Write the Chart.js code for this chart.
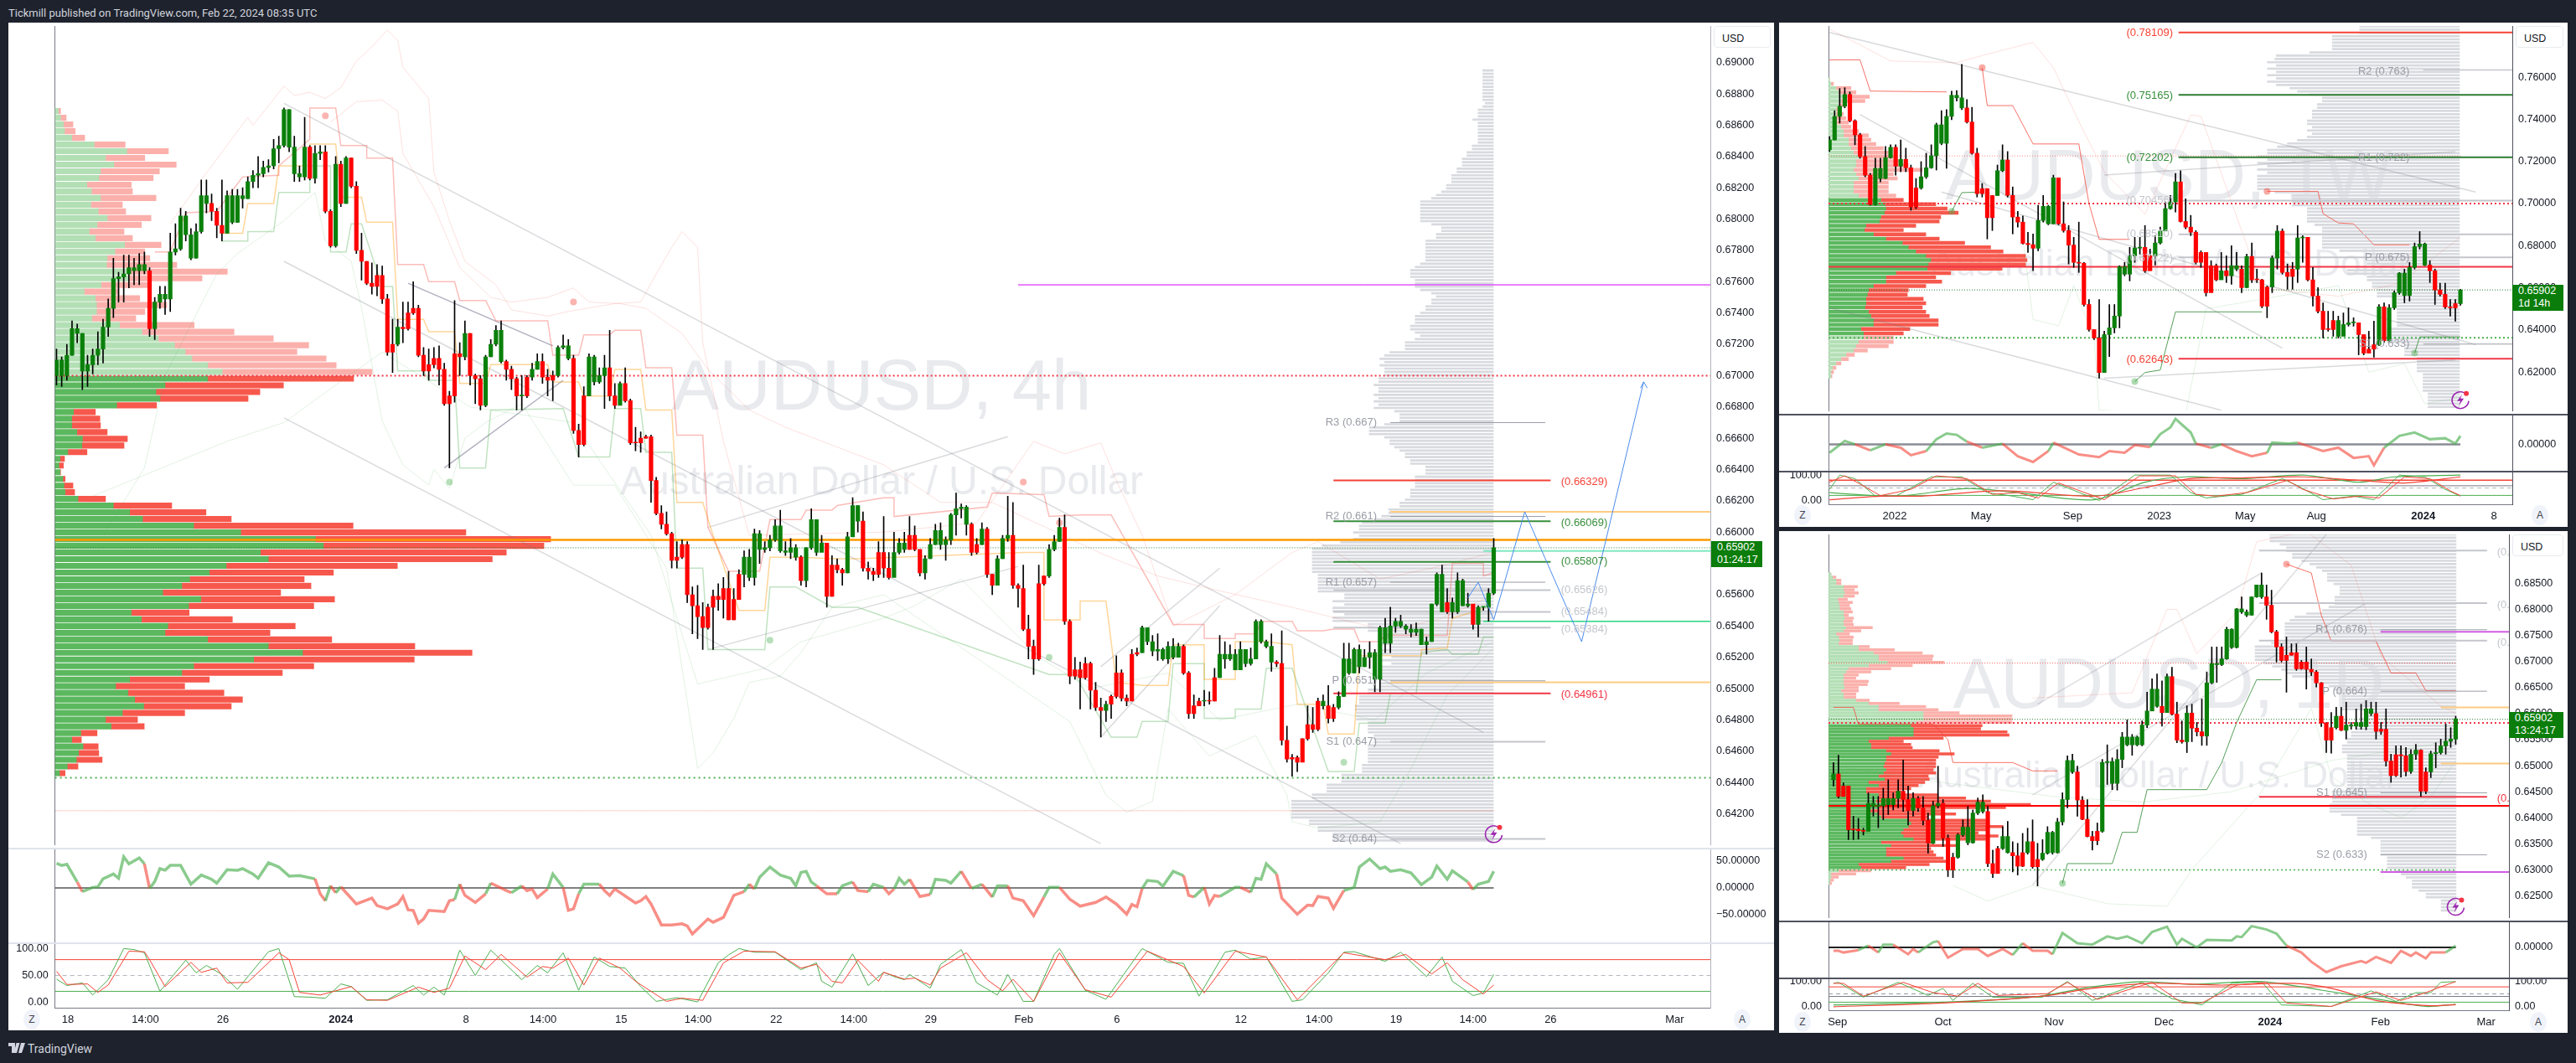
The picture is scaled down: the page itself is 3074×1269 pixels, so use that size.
<!DOCTYPE html>
<html>
<head>
<meta charset="utf-8">
<title>AUDUSD</title>
<script src="https://cdn.jsdelivr.net/npm/chart.js@4"></script>
<style>
html,body{margin:0;padding:0;background:#1e222d;overflow:hidden}
#page{position:relative;width:3074px;height:1269px;background:#1e222d;font-family:"Liberation Sans",sans-serif}
#page canvas{position:absolute;background:#fff}
.txt{position:absolute;white-space:nowrap}
.usd{position:absolute;border:1.5px solid #e8eaf0;border-radius:4px;color:#131722;font-size:12.5px;box-sizing:border-box;padding:7px 0 0 9px;background:#fff}
.tag{position:absolute;width:61px;height:31px;background:#0a7d0a;color:#fff;font-size:12.5px;line-height:15px;padding-left:7px;box-sizing:border-box}
.btn{position:absolute;width:20px;height:24px;border-radius:50%;background:#f0f3fa;color:#434651;font-size:12px;text-align:center;line-height:24px}
.sep{position:absolute}
</style>
</head>
<body>
<div id="page">
<div class="txt" style="left:10px;top:8px;color:#d1d4dc;font-size:13px;font-family:Roboto">Tickmill published on TradingView.com, Feb 22, 2024 08:35 UTC</div>
<svg style="position:absolute;left:10px;top:1244px" width="20" height="14" viewBox="0 0 20 14"><path d="M0 1h8v12H4V5H0zM9.500 1h4L10 13H6.500zM15 1h5l-4 12h-4z" fill="#d1d4dc"/></svg>
<div class="txt" style="left:33px;top:1244px;color:#d1d4dc;font-size:14px;font-family:Roboto">TradingView</div>
</div>
<script>
// 4h chart, prices in 1/10000
const mainClose = [6710,6700,6713,6730,6727,6703,6707,6713,6717,6731,6743,6762,6763,6765,6769,6767,6771,6767,6730,6747,6752,6749,6779,6781,6802,6790,6775,6792,6815,6810,6805,6796,6791,6815,6798,6815,6813,6824,6828,6829,6833,6834,6845,6847,6870,6846,6829,6827,6846,6826,6842,6843,6805,6783,6835,6810,6839,6821,6780,6773,6759,6757,6764,6749,6715,6720,6731,6730,6740,6743,6713,6703,6707,6711,6704,6682,6687,6714,6712,6727,6700,6698,6681,6712,6720,6729,6709,6704,6698,6687,6687,6699,6704,6709,6699,6697,6700,6718,6719,6711,6665,6656,6687,6712,6696,6700,6705,6687,6681,6695,6684,6657,6657,6660,6661,6633,6612,6605,6599,
6582,6584,6592,6560,6553,6546,6539,6552,6559,6557,6564,6544,6557,6573,6584,6571,6599,6589,6590,6595,6604,6588,6587,6590,6584,6569,6590,6608,6587,6593,6559,6579,6576,6574,6597,6617,6607,6577,6575,6573,6587,
6577,6571,6587,6593,6589,6598,6589,6574,6583,6592,6601,6592,6595,6611,6615,6616,6605,6587,6592,6602,6573,6566,6583,6596,6598,6566,6564,6538,6527,6519,6567,6572,6589,6594,6603,6543,6508,6512,6507,6516,6499,6488,6486,6490,6495,6510,6494,6492,6522,6523,6539,6530,6524,6525,6519,6527,6520,6527,6510,6484,6489,6492,6492,6492,6507,6522,6519,6522,6512,6525,6516,6519,6543,6530,6527,6517,6516,6467,6455,6456,6453,6468,6477,6474,6492,6489,6481,6488,6495,6519,6510,6525,6514,6520,6523,6506,6539,6529,6540,6543,6540,6538,6536,6538,6528,6530,6554,6573,6549,6555,6549,6569,6553,6554,6541,6552,6552,6561,6590];
const mainHigh = [6717,6712,6720,6735,6733,6727,6713,6717,6728,6736,6749,6775,6766,6777,6777,6775,6778,6779,6769,6750,6757,6757,6791,6797,6807,6805,6794,6797,6825,6825,6816,6807,6825,6818,6819,6819,6820,6827,6831,6840,6837,6838,6851,6853,6871,6870,6853,6834,6865,6847,6847,6847,6847,6806,6840,6837,6840,6839,6824,6791,6773,6772,6771,6770,6752,6736,6736,6747,6747,6760,6745,6718,6717,6718,6719,6708,6690,6748,6721,6735,6727,6701,6700,6713,6723,6732,6735,6710,6706,6699,6700,6700,6708,6714,6714,6704,6703,6719,6726,6723,6713,6669,6693,6714,6713,6705,6713,6729,6695,6696,6705,6685,6667,6664,6662,6662,6635,6617,6613,
6600,6594,6595,6594,6565,6566,6555,6554,6563,6567,6571,6575,6564,6576,6588,6589,6602,6601,6594,6598,6608,6614,6594,6596,6592,6585,6590,6615,6608,6598,6593,6585,6583,6577,6600,6622,6617,6613,6581,6577,6594,
6610,6587,6600,6596,6600,6610,6604,6582,6585,6596,6605,6606,6597,6612,6625,6618,6617,6606,6596,6606,6603,6573,6585,6598,6623,6619,6567,6579,6547,6531,6579,6572,6592,6598,6609,6611,6544,6520,6517,6520,6517,6504,6494,6492,6496,6521,6512,6496,6525,6526,6540,6539,6534,6535,6526,6530,6532,6529,6528,6511,6496,6494,6499,6498,6513,6534,6530,6528,6525,6530,6525,6526,6544,6544,6531,6535,6518,6537,6476,6458,6457,6468,6489,6488,6494,6496,6502,6490,6498,6529,6529,6526,6528,6525,6530,6525,6540,6545,6552,6545,6547,6541,6541,6542,6538,6533,6554,6574,6579,6564,6558,6574,6570,6561,6553,6553,6552,6564,6596];
const mainLow = [6694,6693,6697,6713,6721,6691,6693,6701,6707,6708,6725,6737,6747,6747,6756,6758,6758,6765,6725,6723,6743,6739,6741,6777,6780,6786,6774,6775,6791,6804,6799,6788,6786,6791,6797,6798,6807,6813,6820,6820,6827,6830,6832,6836,6846,6843,6824,6824,6825,6825,6823,6838,6804,6782,6782,6808,6810,6820,6778,6761,6758,6752,6751,6746,6713,6702,6719,6721,6729,6739,6712,6700,6697,6705,6694,6681,6641,6683,6700,6710,6694,6682,6678,6680,6712,6719,6708,6697,6691,6678,6678,6686,6697,6704,6695,6687,6684,6699,6717,6710,6663,6648,6655,6687,6694,6695,6679,6684,6679,6684,6683,6656,6652,6651,6660,6619,6611,6602,6598,
6577,6577,6583,6555,6535,6532,6525,6538,6525,6550,6545,6544,6544,6557,6565,6569,6566,6580,6587,6588,6594,6587,6585,6583,6582,6566,6565,6589,6585,6590,6552,6559,6574,6566,6574,6607,6600,6575,6570,6569,6571,
6571,6570,6585,6586,6587,6589,6588,6572,6570,6583,6592,6589,6582,6592,6598,6609,6598,6585,6586,6592,6571,6560,6566,6583,6594,6564,6552,6537,6519,6509,6518,6566,6571,6588,6594,6541,6503,6506,6487,6506,6487,6486,6469,6479,6481,6494,6492,6489,6492,6521,6523,6528,6521,6518,6518,6516,6519,6520,6509,6481,6481,6489,6489,6490,6492,6507,6513,6518,6512,6513,6514,6515,6519,6529,6526,6511,6514,6464,6453,6444,6447,6455,6467,6472,6473,6487,6478,6479,6487,6495,6509,6510,6510,6514,6513,6498,6498,6523,6523,6536,6539,6535,6533,6534,6528,6522,6530,6553,6549,6548,6545,6548,6553,6552,6538,6533,6550,6543,6560];
const mainRedRuns = [[18,18],[30,32],[49,49],[52,53],[55,55],[57,65],[67,78],[80,82],[87,89],[91,91],[94,96],[100,102],[107,108],[110,132],[144,144],[149,152],[156,161],[165,167],[177,178],[180,181],[185,191],[195,202],[204,209],[218,221],[223,224],[236,244],[246,247],[269,269],[274,274]];
const mainTicksX = [2.2,17.2,32.2,55,79.2,94.1,109.2,124.1,139.2,154.2,169.1,187.1,205.1,229.1,244.2,259.1,274,289,313];
const mainTickLabels = ['18','14:00','26','2024','8','14:00','15','14:00','22','14:00','29','Feb','6','12','14:00','19','14:00','26','Mar'];
const mainPriceTicks = [6420,6440,6460,6480,6500,6520,6540,6560,6580,6600,6620,6640,6660,6680,6700,6720,6740,6760,6780,6800,6820,6840,6860,6880,6900];
const mainVolBuy = [6,10,15,17,30,70,128,90,105,81,78,57,65,81,64,77,93,75,61,72,124,107,93,92,132,132,82,52,72,74,74,66,115,155,184,213,232,244,272,298,272,196,180,187,110,33,30,30,39,49,48,23,9,7,9,14,16,18,41,104,133,156,247,331,464,478,366,380,305,275,240,226,192,260,238,136,154,201,196,272,380,441,354,247,226,133,108,130,142,158,120,90,100,46,30,50,42,38,22,8];
const mainVolTotal = [10,20,32,36,53,125,202,160,216,186,175,136,138,180,120,126,171,154,123,138,189,160,169,217,307,262,167,114,151,199,160,144,248,319,389,452,431,483,501,565,532,407,365,344,181,72,80,81,93,129,123,57,17,15,10,18,32,35,90,208,269,314,531,732,883,871,804,779,610,496,444,456,402,498,461,239,316,428,383,493,641,743,640,461,405,275,231,301,334,314,231,147,159,75,47,77,78,84,41,18];
const mainGrayVol = [18,18,18,18,18,18,18,18,18,18,14,18,26,26,26,35,26,26,26,26,26,26,26,36,36,45,45,53,53,53,62,62,71,71,71,80,80,88,97,105,124,124,124,124,124,124,124,105,88,88,97,97,115,115,115,115,115,115,115,124,133,141,141,141,133,133,133,124,105,97,105,105,115,115,124,133,133,133,141,141,133,124,133,150,150,150,176,185,193,185,193,185,185,185,195,195,203,195,195,203,195,203,195,203,168,159,159,159,185,211,211,211,185,176,176,168,159,150,150,141,141,115,115,115,133,133,133,133,141,141,141,150,159,159,178,178,190,203,223,228,228,
238,228,238,260,291,308,308,308,308,308,308,308,308,298,298,298,298,298,298,253,253,273,253,273,273,253,273,273,213,213,213,193,193,173,193,173,193,193,173,193,173,193,193,193,193,193,193,193,213,213,228,228,228,235,235,233,233,233,213,213,213,213,203,203,203,213,213,213,213,213,213,223,223,223,258,258,258,283,283,283,308,308,343,343,343,343,343,343,313,313,298,298,273,273,273];
const mainOsc = [[0,46],[1,42],[2,44],[4,11],[5,-7],[7,1],[8,2],[9,17],[11,26],[12,18],[13,58],[14,45],[16,56],[17,45],[18,-1],[19,12],[20,36],[21,33],[22,42],[24,42],[26,7],[28,24],[30,16],[31,9],[33,34],[35,33],[36,36],[38,26],[39,18],[41,47],[43,39],[45,22],[47,23],[50,17],[51,-11],[52,-24],[53,4],[54,-9],[55,2],[58,-30],[61,-19],[62,-33],[64,-39],[66,-30],[67,-16],[68,-41],[69,-42],[70,-66],[71,-58],[72,-42],[75,-44],[76,-24],[77,-22],[78,7],[79,-14],[81,-27],[83,-11],[84,9],[87,-5],[88,-9],[90,4],[91,-5],[92,-2],[93,-18],[95,-2],[96,26],[98,1],[99,-42],[100,-39],[101,-11],[102,7],[105,7],[106,-5],[107,-14],[108,-2],[112,-28],[113,-24],[114,-16],[115,-30],[117,-69],[119,-69],[121,-67],[122,-71],[123,-86],[126,-58],[127,-64],[129,-55],[131,-14],[133,-7],[134,7],[135,-2],[136,20],[138,39],[140,24],[142,18],[143,4],[144,29],[145,31],[146,11],[147,4],[149,-11],[151,-11],[152,4],[154,11],[155,-5],[157,-7],[158,7],[160,1],[161,-11],[162,-2],[163,18],[164,7],[165,16],[167,-16],[169,-12],[170,16],[172,14],[173,9],[175,31],[177,-1],[179,7],[181,-17],[182,4],[184,4],[185,-19],[187,-24],[189,-52],[191,-17],[192,1],[194,1],[196,-21],[198,-34],[201,-27],[203,-17],[205,-30],[207,-49],[208,-31],[209,-35],[210,-1],[211,14],[213,12],[214,3],[216,31],[218,23],[219,-14],[220,-17],[222,1],[223,-30],[224,-14],[225,-16],[228,1],[229,1],[231,-8],[232,18],[233,16],[234,45],[236,26],[237,-19],[240,-49],[242,-32],[243,-33],[244,-16],[246,-19],[247,-38],[249,-5],[251,1],[252,39],[254,54],[256,36],[257,39],[258,31],[260,34],[262,28],[264,6],[266,20],[267,41],[269,16],[270,32],[273,11],[274,-3],[275,7],[277,12],[278,31]];
const mainStochK = [[0,43],[2,31],[5,36],[7,13],[10,42],[13,101],[15,99],[17,93],[20,20],[25,79],[27,55],[29,69],[32,52],[35,24],[41,95],[43,101],[46,10],[49,9],[52,7],[55,34],[57,29],[60,3],[64,4],[69,31],[71,13],[73,28],[75,13],[78,98],[81,50],[84,98],[90,42],[93,69],[95,55],[98,93],[101,22],[104,85],[107,67],[110,64],[113,29],[116,1],[120,8],[124,0],[128,74],[130,89],[132,101],[135,94],[139,94],[144,61],[147,74],[148,39],[150,28],[154,91],[157,31],[160,56],[162,48],[164,42],[165,52],[169,26],[171,71],[175,99],[178,36],[182,13],[184,52],[187,1],[189,1],[193,90],[194,101],[199,22],[203,5],[210,101],[215,75],[218,73],[221,11],[226,94],[228,98],[231,81],[234,85],[239,1],[241,4],[246,55],[249,94],[251,95],[257,77],[260,94],[265,48],[268,85],[270,39],[274,12],[276,17],[278,52]];
const mainStochD = [[0,58],[2,33],[6,34],[8,18],[10,32],[14,96],[17,95],[18,80],[21,29],[26,75],[28,56],[31,64],[33,36],[37,37],[43,93],[45,80],[47,18],[51,13],[57,29],[60,4],[64,3],[70,28],[73,18],[76,26],[79,87],[83,61],[86,90],[91,47],[94,67],[96,64],[99,83],[102,32],[105,83],[109,64],[112,39],[118,1],[121,7],[125,3],[129,74],[133,96],[139,95],[144,64],[147,71],[150,39],[152,36],[155,79],[159,39],[160,56],[164,43],[166,45],[169,32],[171,64],[176,93],[180,42],[183,21],[185,43],[189,1],[194,93],[199,23],[204,9],[211,96],[218,67],[222,17],[228,96],[234,85],[240,4],[249,93],[257,80],[261,90],[266,53],[269,74],[272,42],[276,15],[278,32]];
const mainBandA = [[22,6797],[28,6825],[37,6865],[38,6860],[44,6885],[46,6879],[49,6881],[52,6877],[55,6884],[58,6901],[61,6910],[64,6921],[66,6914],[67,6897],[72,6877],[73,6830],[76,6799],[79,6773],[85,6758],[88,6742],[95,6738],[99,6741],[108,6746],[113,6747],[116,6765],[119,6782],[121,6792],[124,6782],[125,6721],[129,6658],[134,6598],[160,6600],[178,6606],[189,6658],[195,6650],[202,6657],[205,6633],[210,6598],[216,6540],[228,6560],[239,6587],[244,6594],[256,6570],[266,6577],[278,6587]];
const mainBandB = [[53,6862],[58,6875],[63,6876],[66,6869],[67,6842],[73,6808],[78,6769],[84,6750],[88,6747],[95,6750],[100,6756],[103,6747],[109,6746],[114,6743],[121,6727],[126,6704],[134,6678],[141,6667],[160,6643],[171,6619],[181,6619],[203,6585],[213,6572],[223,6564],[239,6552],[250,6543],[258,6537],[268,6545],[278,6560]];
const mainBandC = [[7,6623],[33,6658],[44,6670],[54,6694],[63,6715],[80,6680],[100,6670],[115,6598],[124,6503],[128,6506],[137,6513],[144,6530],[160,6545],[166,6553],[175,6570],[190,6520],[200,6500],[215,6510],[225,6480],[240,6490],[255,6480],[265,6510],[278,6530]];
const mainBandD = [[9,6598],[17,6641],[21,6700],[31,6765],[35,6778],[44,6799],[50,6817],[52,6786],[57,6773],[59,6743],[63,6671],[67,6643],[72,6630],[73,6640],[76,6628],[79,6660],[83,6670],[90,6682],[100,6630],[108,6630],[118,6577],[124,6449],[127,6459],[131,6481],[134,6504],[140,6508],[144,6523],[150,6552],[160,6560],[196,6479],[203,6432],[207,6421],[212,6428],[215,6487],[223,6457],[232,6470],[238,6432],[239,6415],[244,6411],[256,6415],[262,6449],[269,6496],[278,6526]];
const mainRedStep = [[19,6779],[22,6779],[25,6804],[31,6805],[36,6827],[43,6828],[43,6834],[49,6851],[49,6871],[54,6871],[55,6847],[60,6847],[60,6839],[65,6839],[66,6771],[71,6771],[72,6760],[77,6760],[78,6748],[83,6748],[85,6735],[95,6735],[96,6713],[101,6713],[102,6726],[107,6726],[108,6729],[113,6729],[114,6705],[119,6705],[120,6662],[125,6662],[126,6603],[130,6575],[136,6575],[138,6608],[144,6608],[145,6614],[150,6614],[151,6617],[160,6622],[162,6622],[162,6610],[180,6616],[181,6625],[191,6624],[192,6610],[198,6611],[204,6611],[216,6541],[222,6541],[222,6532],[228,6532],[228,6535],[232,6535],[233,6543],[239,6543],[240,6537],[245,6537],[247,6538],[251,6538],[252,6530],[256,6530],[257,6534],[269,6534],[270,6580],[276,6580],[276,6572],[278,6574]];
const mainOrangeStep = [[32,6791],[36,6791],[37,6810],[42,6810],[43,6834],[49,6834],[49,6848],[54,6848],[55,6814],[59,6814],[60,6798],[65,6798],[66,6736],[71,6736],[72,6728],[77,6728],[78,6695],[83,6695],[84,6707],[95,6707],[96,6696],[101,6696],[102,6687],[107,6687],[108,6704],[113,6704],[114,6678],[119,6678],[120,6619],[125,6619],[127,6598],[132,6550],[137,6550],[138,6584],[144,6584],[150,6583],[155,6583],[187,6587],[191,6587],[191,6544],[198,6544],[198,6556],[203,6556],[205,6504],[210,6502],[215,6502],[216,6528],[222,6528],[222,6506],[228,6506],[228,6530],[234,6530],[239,6528],[240,6490],[245,6490],[246,6471],[251,6471],[252,6521],[264,6521],[264,6525],[269,6526],[270,6545],[276,6551]];
const mainGreenStep = [[32,6786],[37,6786],[37,6792],[42,6792],[43,6817],[49,6817],[49,6834],[53,6834],[53,6779],[56,6779],[57,6797],[59,6797],[63,6757],[65,6757],[66,6703],[71,6703],[72,6697],[77,6697],[78,6641],[83,6641],[84,6678],[98,6679],[101,6648],[107,6648],[108,6679],[113,6679],[114,6651],[119,6651],[120,6577],[125,6577],[126,6525],[137,6525],[138,6565],[143,6565],[150,6552],[155,6552],[192,6509],[197,6509],[204,6469],[209,6469],[210,6479],[215,6479],[216,6516],[222,6516],[222,6481],[228,6481],[228,6487],[233,6487],[234,6513],[239,6513],[246,6447],[251,6447],[252,6478],[257,6478],[258,6497],[263,6497],[264,6523],[269,6525],[270,6522],[275,6522],[276,6533],[278,6533]];
const mainTrendLines = [[44,6874,276,6472],[44,6773,260,6401],[44,6673,202,6401],[126,6525,186,6578],[202,6514,225,6577],[202,6469,225,6553],[126,6603,184,6661]];
const mainTrianglePair = [[68,6759,96,6719],[75,6641,98,6697]];
const mainBluePath = [[273,6558],[275,6568],[278,6544],[284,6613],[295,6530],[307,6696]];
const mainArrowHead = [[306.4,6692],[307,6696],[307.7,6692]];
const mainRedDots = [[52,6866],[100,6747],[187,6632],[194,6606]];
const mainGreenDots = [[76,6632],[138,6531],[192,6520],[249,6453]];
const mainLevelPrices = [6700,6443,6590,6595,6422,6758,6670,6633,6613,6607,6610,6581,6588,6568,6563,6549,6543,6539,6505,6504,6497,6466,6404];

// weekly chart
const weekClose = [7302,7414,7462,7518,7393,7326,7223,7135,6995,7167,7119,7218,7267,7178,7210,7170,6984,7074,7127,7170,7227,7374,7286,7414,7514,7502,7454,7387,7239,7047,7071,6933,7038,7156,7207,7039,6936,6912,6811,6805,6788,6920,6987,6904,7122,6904,6872,6803,6721,6717,6521,6402,6362,6198,6378,6410,6466,6700,6665,6752,6789,6792,6681,6752,6813,6870,6976,7008,7103,6915,6888,6864,6721,6768,6577,6705,6638,6681,6657,6705,6689,6601,6749,6638,6638,6513,6604,6741,6869,6673,6654,6689,6837,6840,6638,6561,6489,6402,6402,6445,6370,6426,6434,6434,6378,6290,6309,6330,6510,6349,6505,6577,6670,6564,6697,6796,6808,6708,6681,6590,6569,6509,6505,6525,6590];
const weekHigh = [7318,7441,7546,7550,7530,7398,7334,7271,7143,7215,7215,7271,7279,7279,7302,7263,7183,7119,7199,7239,7279,7382,7441,7446,7534,7537,7661,7494,7457,7263,7095,7055,7039,7183,7279,7247,7079,6963,6941,6864,6856,6992,7039,6992,7135,7119,7008,6896,6840,6912,6721,6545,6402,6545,6394,6521,6521,6705,6721,6792,6840,6840,6896,6784,6848,6888,7008,7039,7143,7156,7023,6944,6872,6776,6745,6729,6713,6768,6752,6800,6768,6705,6760,6813,6689,6641,6609,6752,6896,6880,6713,6721,6896,6848,6737,6697,6601,6529,6489,6489,6466,6481,6505,6458,6426,6362,6394,6442,6521,6529,6521,6585,6673,6689,6721,6813,6867,6813,6729,6689,6622,6622,6545,6545,6593];
const weekLow = [7247,7302,7382,7454,7387,7279,7215,7127,6992,6992,7103,7119,7215,7135,7151,7151,6968,6976,7068,7119,7167,7159,7279,7167,7398,7486,7446,7382,7234,7031,7031,6832,6872,7039,7151,7031,6856,6888,6808,6768,6681,6776,6912,6899,6904,6899,6864,6713,6697,6673,6513,6394,6354,6171,6203,6274,6386,6410,6657,6633,6721,6760,6673,6705,6708,6808,6872,6973,6960,6912,6880,6848,6713,6697,6561,6593,6633,6649,6625,6617,6681,6577,6601,6625,6625,6505,6458,6577,6689,6665,6593,6593,6625,6721,6633,6513,6481,6362,6394,6370,6362,6373,6418,6418,6282,6282,6290,6271,6325,6341,6346,6497,6569,6529,6537,6689,6784,6705,6625,6521,6561,6501,6466,6442,6517];
const weekRedRuns = [[4,8],[13,13],[15,17],[27,32],[35,40],[45,53],[62,63],[69,76],[78,78],[81,81],[83,86],[89,91],[94,99],[104,107],[109,109],[118,123]];
const weekTicksX = [12.8,29.8,47.8,64.8,81.7,95.7,116.7,130.6];
const weekTickLabels = ['2022','May','Sep','2023','May','Aug','2024','8'];
const weekPriceTicks = [6200,6400,6600,6800,7000,7200,7400,7600];
const weekVolBuy = [2,5,15,20,30,25,20,15,15,15,15,25,30,30,40,40,45,50,60,55,55,50,55,60,50,50,50,60,105,113,115,112,105,102,75,72,90,115,148,160,175,195,205,200,198,135,115,115,90,80,78,75,75,73,80,85,90,90,65,70,70,60,55,50,35,25,15,8,5,5];
const weekVolTotal = [2,10,45,55,82,73,30,25,30,35,40,45,60,80,85,95,110,120,130,145,160,188,130,138,120,120,120,135,150,215,238,260,225,222,175,150,195,222,273,325,350,395,398,395,348,245,215,227,195,160,158,190,195,188,195,202,220,220,163,150,130,130,120,78,52,40,25,15,10,7];
const weekGrayVol = [200,200,200,255,255,255,255,255,300,367,370,385,367,385,367,385,367,385,367,340,325,300,275,275,285,285,295,295,295,305,305,295,305,295,305,325,345,365,385,385,405,385,405,385,405,385,405,405,405,405,405,370,335,335,335,335,305,305,305,305,305,290,275,275,275,275,275,275,275,240,185,170,185,185,170,225,225,185,185,175,175,165,165,165,125,125,125,125,125,125,125,125,125,145,145,145,145,145,110,110,110,110,85,85,85,85,85,73,73,73,73,73,73,63,63,63,63,63];
const weekOsc = [[0,-25],[3,10],[5,0],[8,-18],[11,0],[14,-10],[16,-32],[19,-20],[21,15],[23,32],[25,28],[27,8],[30,-10],[34,2],[37,-35],[40,-52],[43,-20],[44,5],[49,-30],[53,-38],[55,-20],[58,-25],[60,-2],[63,-8],[65,30],[67,50],[68,75],[71,35],[72,2],[75,-10],[77,0],[80,-20],[83,-35],[86,-25],[87,5],[90,2],[92,5],[97,-20],[100,-10],[103,-40],[106,-35],[107,-62],[109,-10],[112,25],[115,35],[118,15],[121,18],[123,2],[124,25]];
const weekStochFastK = [[0,44],[2,100],[5,86],[9,17],[13,17],[20,93],[26,93],[31,31],[36,17],[40,3],[44,72],[53,0],[60,100],[67,100],[71,31],[74,10],[81,24],[89,86],[92,58],[97,3],[103,17],[107,3],[112,100],[117,93],[121,44],[124,17]];
const weekStochFastD = [[0,72],[3,97],[6,65],[10,19],[16,44],[21,97],[27,86],[32,24],[37,31],[41,10],[45,69],[54,3],[61,97],[68,97],[72,24],[76,17],[82,31],[90,79],[93,44],[99,6],[104,17],[108,10],[113,93],[118,86],[122,38],[124,19]];
const weekStochSlowK = [[0,31],[13,17],[27,47],[36,33],[52,3],[62,72],[70,93],[81,86],[93,100],[104,72],[111,93],[124,100]];
const weekStochSlowD = [[0,3],[10,17],[18,17],[34,38],[52,17],[62,51],[71,86],[81,89],[93,93],[104,79],[113,69],[124,93]];
const weekBandUp = [[0,7829],[12,7677],[25,7669],[31,7709],[40,7765],[44,7645],[49,7390],[54,7151],[62,6950],[71,7420],[73,7415],[85,6600],[100,6560],[112,6620],[124,6840]];
const weekBandLow = [[38,6832],[40,6450],[45,6420],[48,6610],[52,6355],[53,6020],[70,6000],[74,6500],[100,6610],[106,6200],[113,6240],[117,6050],[124,6080]];
const weekRedStep = [[0,7682],[6,7682],[8,7534],[23,7530]];
const weekRedStepB = [[30,7645],[31,7465],[36,7465],[40,7283],[49,7283],[51,7000],[53,6830],[59,6830]];
const weekRedStepC = [[86,7058],[96,7058],[97,6952],[100,6908],[103,6904],[107,6804],[114,6804]];
const weekGreenStep = [[24,6963],[26,7052],[30,7055]];
const weekGreenStepB = [[60,6155],[62,6198],[65,6210],[68,6486],[85,6486]];
const weekGreenStepC = [[115,6290],[116,6367],[124,6367]];
const weekRedDots = [[30,7645],[86,7058]];
const weekGreenDots = [[24,6963],[60,6155],[115,6290]];
const weekTrendLines = [[0,7812,127,7055],[6,7422,89,6314],[0,6505,77,6019],[54,6171,123,6258],[54,7135,123,7247],[22,7055,127,6330]];
const weekLevelPrices = [7812,7634,7516,7220,7226,7014,7000,6854,6745,6700,6590,6363,6333,6264];

// daily chart
const dayClose = [6484,6441,6461,6377,6378,6375,6374,6428,6422,6423,6437,6425,6437,6451,6435,6414,6437,6419,6395,6351,6423,6428,6361,6300,6324,6367,6382,6352,6409,6430,6412,6312,6293,6341,6364,6333,6327,6307,6333,6354,6306,6320,6332,6372,6333,6392,6435,6510,6488,6434,6397,6364,6356,6374,6506,6508,6466,6512,6555,6540,6555,6540,6578,6605,6647,6614,6602,6671,6599,6549,6546,6601,6572,6565,6557,6659,6696,6694,6705,6762,6727,6801,6795,6789,6824,6847,6824,6808,6757,6728,6702,6712,6717,6686,6699,6685,6680,6659,6582,6549,6573,6595,6568,6578,6576,6583,6575,6609,6600,6566,6570,6509,6481,6521,6519,6489,6522,6530,6451,6488,6523,6525,6538,6547,6551,6590];
const dayHigh = [6506,6520,6467,6461,6403,6399,6380,6448,6441,6441,6457,6473,6448,6473,6511,6461,6448,6441,6441,6409,6432,6499,6435,6367,6332,6370,6396,6422,6415,6438,6444,6422,6338,6345,6383,6393,6354,6351,6370,6380,6396,6351,6358,6383,6374,6399,6448,6519,6522,6499,6441,6435,6374,6390,6512,6540,6515,6531,6564,6588,6560,6557,6586,6641,6667,6676,6663,6676,6689,6622,6586,6615,6618,6583,6628,6680,6728,6728,6728,6766,6763,6802,6824,6799,6824,6847,6870,6847,6837,6760,6734,6747,6734,6734,6702,6728,6705,6683,6660,6583,6602,6612,6612,6622,6583,6609,6618,6625,6622,6622,6583,6609,6522,6538,6538,6535,6531,6541,6531,6496,6528,6544,6551,6580,6573,6595];
const dayLow = [6461,6438,6441,6358,6358,6359,6367,6375,6403,6381,6396,6406,6415,6419,6412,6386,6403,6412,6386,6332,6350,6419,6345,6287,6285,6322,6364,6348,6351,6406,6409,6306,6285,6294,6339,6332,6296,6290,6306,6330,6303,6269,6318,6330,6330,6332,6386,6419,6485,6403,6396,6363,6338,6348,6372,6464,6454,6453,6496,6538,6520,6538,6538,6573,6614,6612,6576,6602,6597,6544,6543,6525,6546,6557,6539,6539,6657,6660,6692,6704,6725,6726,6792,6786,6789,6823,6821,6781,6755,6699,6699,6641,6712,6683,6685,6647,6673,6651,6575,6525,6524,6570,6567,6551,6570,6570,6570,6569,6596,6551,6560,6499,6468,6479,6478,6480,6485,6512,6441,6446,6477,6496,6522,6522,6535,6541];
const dayRedRuns = [[1,6],[14,15],[17,19],[22,24],[31,33],[36,38],[40,41],[49,53],[66,66],[68,70],[72,74],[87,100],[102,102],[109,115],[118,119]];
const dayTicksX = [0.8,22,44.3,66.4,87.7,109.9,131.1];
const dayTickLabels = ['Sep','Oct','Nov','Dec','2024','Feb','Mar'];
const dayPriceTicks = [6250,6300,6350,6400,6450,6500,6550,6600,6650,6700,6750,6800,6850];
const dayVolBuy = [5,8,15,15,30,30,32,30,18,20,22,22,30,30,32,30,30,35,30,15,20,22,20,60,60,90,100,100,118,80,40,35,30,30,30,30,32,25,30,30,55,80,100,100,190,190,190,175,165,170,170,170,120,80,85,85,115,125,115,115,112,110,115,110,100,112,80,100,75,75,100,100,95,105,100,80,100,105,160,165,160,150,145,150,170,105,125,115,115,115,150,125,60,65,20,5,5,3,2];
const dayVolTotal = [5,15,25,25,58,52,60,52,38,48,42,45,48,40,50,48,50,88,65,42,50,48,48,82,132,188,210,208,232,168,125,85,60,55,80,78,60,60,55,55,82,142,195,220,262,368,368,368,308,305,358,362,230,150,165,168,222,252,220,215,215,215,210,215,200,202,193,180,165,145,220,275,325,405,355,230,255,200,315,315,350,320,300,340,315,210,255,205,210,215,230,240,202,155,85,55,20,10,6];
const dayGrayVol = [373,373,373,353,340,340,328,328,310,293,280,268,258,258,258,245,233,233,233,243,243,243,255,268,300,323,333,343,343,343,343,343,343,370,403,403,403,403,403,385,368,350,340,328,290,268,255,245,240,228,228,228,228,228,178,178,190,190,200,200,210,210,218,218,228,228,228,218,218,218,218,218,218,218,218,218,218,218,248,248,248,248,253,253,253,230,198,198,198,198,198,198,170,151,151,151,151,151,138,138,138,138,120,110,100,88,88,88,75,60,60,30,30,30,30];
const dayOsc = [[0,-10],[1,-10],[2,-15],[5,-8],[7,5],[9,-15],[10,8],[12,8],[15,-20],[16,-5],[17,-15],[20,15],[21,18],[23,-30],[26,-5],[29,-5],[31,-25],[34,-5],[36,-22],[38,12],[40,-10],[43,-10],[44,-20],[46,42],[49,12],[52,8],[55,32],[57,25],[59,32],[62,12],[64,45],[67,60],[69,8],[70,25],[73,0],[75,22],[80,20],[81,32],[82,30],[84,62],[87,52],[89,40],[91,5],[94,-15],[96,-42],[99,-72],[102,-55],[106,-40],[107,-45],[109,-28],[112,-45],[114,-10],[116,-25],[117,-15],[119,-32],[120,-15],[123,-15],[125,5]];
const dayStochFastK = [[0,93],[1,97],[6,38],[13,97],[19,45],[22,73],[24,25],[28,93],[32,38],[42,38],[47,100],[52,25],[62,97],[68,32],[74,7],[80,93],[86,100],[90,7],[100,1],[108,63],[113,21],[117,56],[120,56],[122,97],[125,100]];
const dayStochFastD = [[0,93],[2,93],[6,42],[14,97],[20,56],[25,42],[29,93],[33,45],[43,52],[47,97],[53,29],[64,97],[70,15],[74,15],[81,86],[87,97],[91,15],[100,1],[109,59],[114,25],[119,56],[122,79],[125,100]];
const dayStochSlowK = [[0,7],[22,18],[40,38],[52,79],[62,100],[72,89],[86,100],[98,66],[111,25],[119,1],[125,10]];
const dayStochSlowD = [[0,0],[22,15],[42,42],[52,73],[64,93],[78,86],[92,93],[100,73],[109,25],[120,4],[125,8]];
const dayBandUp = [[40,6630],[60,6640],[67,6800],[69,6800],[73,6715],[81,6795],[85,6930],[95,6950],[104,6885],[110,6710],[122,6615],[125,6600]];
const dayBandLow = [[24,6270],[31,6240],[40,6270],[55,6235],[67,6230],[72,6300],[86,6450],[96,6610],[100,6480],[107,6430],[114,6400],[120,6440],[125,6510]];
const dayBandMid = [[0,6500],[20,6470],[45,6440],[62,6430],[80,6450],[100,6510],[120,6540],[125,6560]];
const dayRedStep = [[0,6612],[4,6612],[5,6580],[20,6580],[23,6550],[24,6506],[36,6506],[40,6490],[45,6490]];
const dayRedStepB = [[91,6887],[96,6870],[98,6789],[100,6739],[109,6739],[112,6678],[117,6678],[119,6644],[125,6644]];
const dayGreenStep = [[46,6274],[47,6312],[56,6312],[58,6372],[61,6372],[63,6454],[75,6454],[78,6506],[81,6583],[85,6665],[90,6665]];
const dayRedDots = [[91,6887]];
const dayGreenDots = [[46,6274]];
const dayTrendLines = [[41,6618,86,6870],[40,6444,107,6812],[40,6271,99,6944]];
const dayLevelPrices = [6913,6812,6761,6757,6740,6697,6643,6612,6589,6582,6504,6448,6440,6423,6329,6300,6296];
</script>
<script>
const page = document.getElementById('page');
const FONT = '"Liberation Sans", sans-serif';
const GREEN = '#0a800a', RED = '#ff0000';

function pairs(list) { return list.map(p => ({x: p[0], y: p[1]})); }

function lineSet(list, color, width, extra) {
    return Object.assign({type: 'line', data: pairs(list), borderColor: color, borderWidth: width, pointRadius: 0, tension: 0, fill: false, order: 6, xAxisID: 'x', yAxisID: 'y'}, extra || {});
}

function dotSet(list, color) {
    return {type: 'line', data: pairs(list), showLine: false, pointRadius: 4, pointBackgroundColor: color, pointBorderWidth: 0, order: 6, xAxisID: 'x', yAxisID: 'y'};
}

function levelSet(price, style) {
    return lineSet([[style[0], price], [style[1], price]], style[2], style[3], {borderDash: style[4] || [], order: style[5] || 5});
}

function segmentSets(list, color, width) {
    return list.map(s => lineSet([[s[0], s[1]], [s[2], s[3]]], color, width, {order: 7}));
}

function candleSets(close, high, low, redRuns, firstOpen) {
    const isRed = i => redRuns.some(r => i >= r[0] && i <= r[1]);
    const wicks = {type: 'bar', grouped: false, barThickness: 1, backgroundColor: '#000', order: 3, xAxisID: 'x', yAxisID: 'y',
        data: close.map((c, i) => ({x: i, y: [low[i], high[i]]}))};
    const bodies = {type: 'bar', grouped: false, barThickness: 4.5, minBarLength: 1, order: 2, xAxisID: 'x', yAxisID: 'y',
        backgroundColor: close.map((c, i) => isRed(i) ? RED : GREEN),
        data: close.map((c, i) => ({x: i, y: [i ? close[i - 1] : firstOpen, c]}))};
    return [wicks, bodies];
}

// left volume profile, buy part then sell part, on its own hidden axis
function volumeSets(buy, total, top, bottom, thick, darkFrom, darkTo) {
    const step = (top - bottom) / (buy.length - 1);
    const dark = i => i >= darkFrom && i <= darkTo;
    const base = {type: 'bar', indexAxis: 'y', grouped: false, barThickness: thick, order: 8, xAxisID: 'vol', yAxisID: 'y'};
    return [
        Object.assign({}, base, {backgroundColor: buy.map((b, i) => dark(i) ? '#5cb85f' : '#b3dfb5'),
            data: buy.map((b, i) => ({y: top - i * step, x: [0, b]}))}),
        Object.assign({}, base, {backgroundColor: buy.map((b, i) => dark(i) ? '#f7584d' : '#fbb0ab'),
            data: buy.map((b, i) => ({y: top - i * step, x: [b, total[i]]}))})
    ];
}

function graySet(vol, top, bottom, thick) {
    const step = (top - bottom) / (vol.length - 1);
    return {type: 'bar', indexAxis: 'y', grouped: false, barThickness: thick, order: 9, xAxisID: 'gray', yAxisID: 'y',
        backgroundColor: '#d8dadf', data: vol.map((v, i) => ({y: top - i * step, x: [0, v]}))};
}

function watermark(main, sub, mx, my, ms, sx, sy, ss) {
    return {id: 'wm', beforeDatasetsDraw(chart) {
        const c = chart.ctx;
        c.save();
        c.fillStyle = '#e9eaee';
        c.textAlign = 'center';
        c.textBaseline = 'middle';
        c.font = ms + 'px ' + FONT;
        c.fillText(main, mx, my);
        c.font = ss + 'px ' + FONT;
        c.fillText(sub, sx, sy);
        c.restore();
    }};
}

// text beside level lines and the purple event marker
function overlay(labels, mark) {
    return {id: 'ov', afterDatasetsDraw(chart) {
        const c = chart.ctx, sx = chart.scales.x, sy = chart.scales.y;
        c.save();
        c.font = '13px ' + FONT;
        c.textBaseline = 'middle';
        labels.forEach(l => {
            c.fillStyle = l[3];
            c.textAlign = l[4] || 'left';
            c.fillText(l[0], sx.getPixelForValue(l[1]), sy.getPixelForValue(l[2]));
        });
        const x = sx.getPixelForValue(mark[0]), y = sy.getPixelForValue(mark[1]);
        c.strokeStyle = '#9c27b0';
        c.lineWidth = 1.5;
        c.beginPath();
        c.arc(x, y, 10, 0.1, Math.PI * 1.7);
        c.stroke();
        c.fillStyle = '#9c27b0';
        c.beginPath();
        c.moveTo(x + 2, y - 7);
        c.lineTo(x - 4, y + 1);
        c.lineTo(x, y + 1);
        c.lineTo(x - 2, y + 7);
        c.lineTo(x + 4, y - 2);
        c.lineTo(x, y - 2);
        c.closePath();
        c.fill();
        c.fillStyle = '#f23645';
        c.beginPath();
        c.arc(x + 7, y - 8, 3, 0, Math.PI * 2);
        c.fill();
        c.restore();
    }};
}

// chart.js leaves room for half a label at the ends of an axis, the panes must fill their box
function noPadding(s) {
    s.paddingTop = 0;
    s.paddingBottom = 0;
    s.paddingLeft = 0;
    s.paddingRight = 0;
}

function xScale(min, max, ticks, labels, show) {
    return {type: 'linear', min, max, offset: false, display: show, grid: {display: false, drawTicks: false},
        border: {display: show, color: '#787b86'},
        afterBuildTicks: s => { s.ticks = ticks.map(v => ({value: v})); },
        afterFit: s => { if (show) s.height = 27; noPadding(s); },
        ticks: {autoSkip: false, maxRotation: 0, padding: 7, color: '#131722', includeBounds: false,
            callback: v => labels[ticks.indexOf(v)],
            font: ctx => ({family: FONT, size: 13, weight: ctx.tick && ctx.tick.label === '2024' ? 'bold' : 'normal'})}};
}

function yRight(min, max, ticks, width, fmt, color) {
    return {type: 'linear', position: 'right', min, max, offset: false, beginAtZero: false, grid: {display: false, drawTicks: false},
        border: {display: true, color: color || '#b2b5be'},
        afterBuildTicks: s => { s.ticks = ticks.map(v => ({value: v})); },
        afterFit: s => { s.width = width; noPadding(s); },
        ticks: {autoSkip: false, padding: 7, color: '#131722', font: {family: FONT, size: 12.5}, callback: fmt}};
}

function yLeft(min, max, ticks, width) {
    return {type: 'linear', position: 'left', min, max, offset: false, beginAtZero: false, grid: {display: false, drawTicks: false},
        border: {display: true, color: '#787b86'},
        afterBuildTicks: s => { s.ticks = ticks.map(v => ({value: v})); },
        afterFit: s => { s.width = width; noPadding(s); },
        ticks: {display: ticks.length > 0, autoSkip: false, padding: 8, color: '#131722', font: {family: FONT, size: 12.5},
            callback: v => v.toFixed(2)}};
}

function makePane(left, top, width, height, datasets, scales, plugins) {
    const cv = document.createElement('canvas');
    cv.width = width;
    cv.height = height;
    cv.style.left = left + 'px';
    cv.style.top = top + 'px';
    cv.style.width = width + 'px';
    cv.style.height = height + 'px';
    page.appendChild(cv);
    return new Chart(cv, {type: 'bar', data: {datasets}, plugins: plugins || [],
        options: {responsive: false, animation: false, events: [], layout: {padding: 0},
            plugins: {legend: {display: false}, tooltip: {enabled: false}}, scales}});
}

function oscSet(list, width) {
    return lineSet(list, 'rgba(76,175,80,.6)', width, {order: 1,
        segment: {borderColor: c => c.p1.parsed.y >= 0 ? 'rgba(76,175,80,.65)' : 'rgba(244,67,54,.6)'}});
}

function addDiv(cls, css, text) {
    const d = document.createElement('div');
    d.className = cls;
    d.style.cssText = css;
    if (text) d.innerHTML = text;
    page.appendChild(d);
}

const price5 = v => (v / 10000).toFixed(5);
const osc5 = v => (v < 0 ? '\u2212' : '') + Math.abs(v).toFixed(5);
const GRAY_LVL = '#c4c6cc', PIVOT = '#9a9da6';

// ---- 4h panel ----
const MX0 = -0.3, MX1 = 319.9, ME = 320;
const mainLevelStyle = [
    [MX0, ME, '#f23645', 2, [2, 3]], [MX0, ME, '#4caf50', 2, [2, 4]], [MX0, ME, '#2e7d32', 1, [1, 2]], [MX0, ME, '#ff9800', 2.5],
    [MX0, 278, 'rgba(244,67,54,.5)', 1, [1, 1]], [186, ME, '#d500f9', 1], [258, 288, PIVOT, 1], [247, 289, '#f44336', 2], [258, ME, '#ffcc80', 2],
    [247, 289, '#388e3c', 2], [258, 288, PIVOT, 1], [247, 289, '#388e3c', 2], [276, ME, '#80e8c0', 2], [258, 288, PIVOT, 1],
    [247, 289, GRAY_LVL, 2], [247, 289, GRAY_LVL, 2], [276, ME, '#2bd67f', 1.5], [247, 289, GRAY_LVL, 2], [258, 288, PIVOT, 1],
    [258, ME, '#ffcc80', 2], [247, 289, '#f23645', 2], [258, 288, GRAY_LVL, 2], [258, 288, GRAY_LVL, 2]
];
const mainLabels = [
    ['R3 (0.667)', 255.4, 6670, PIVOT, 'right'], ['(0.66329)', 291, 6632, '#f44336'], ['R2 (0.661)', 255.4, 6610, PIVOT, 'right'],
    ['(0.66069)', 291, 6606, '#388e3c'], ['(0.65807)', 291, 6581, '#388e3c'], ['R1 (0.657)', 255.4, 6568, PIVOT, 'right'],
    ['(0.65626)', 291, 6563, GRAY_LVL], ['(0.65484)', 291, 6549, GRAY_LVL], ['(0.65384)', 291, 6538, GRAY_LVL],
    ['P (0.651)', 255.4, 6505, PIVOT, 'right'], ['(0.64961)', 291, 6496, '#f23645'], ['S1 (0.647)', 255.4, 6466, PIVOT, 'right'],
    ['S2 (0.64)', 255.4, 6404, PIVOT, 'right']
];
const mainSets = [
    graySet(mainGrayVol, 6895, 6403, 2),
    ...volumeSets(mainVolBuy, mainVolTotal, 6869, 6446, 6.5, 40, 99),
    lineSet(mainBandA, 'rgba(244,67,54,.16)', 1), lineSet(mainBandB, 'rgba(244,67,54,.16)', 1),
    lineSet(mainBandC, 'rgba(76,175,80,.16)', 1), lineSet(mainBandD, 'rgba(76,175,80,.16)', 1),
    lineSet(mainRedStep, 'rgba(244,67,54,.35)', 1.5), lineSet(mainOrangeStep, 'rgba(255,152,0,.4)', 1.5), lineSet(mainGreenStep, 'rgba(76,175,80,.35)', 1.5),
    ...segmentSets(mainTrendLines, 'rgba(120,123,134,.28)', 1.5), ...segmentSets(mainTrianglePair, 'rgba(100,100,130,.5)', 1.5),
    ...mainLevelPrices.map((p, i) => levelSet(p, mainLevelStyle[i])),
    ...candleSets(mainClose, mainHigh, mainLow, mainRedRuns, 6700),
    dotSet(mainRedDots, 'rgba(244,67,54,.4)'), dotSet(mainGreenDots, 'rgba(76,175,80,.4)'),
    lineSet(mainBluePath, '#4a8bec', 1, {order: 0}), lineSet(mainArrowHead, '#4a8bec', 1, {order: 0})
];
makePane(10, 27, 2107, 985, mainSets, {
    x: xScale(MX0, MX1, mainTicksX, mainTickLabels, false),
    vol: {axis: 'x', type: 'linear', min: 0, max: 2949, display: false, offset: false},
    gray: {axis: 'x', type: 'linear', reverse: true, min: -369, max: 2446, display: false, offset: false},
    y: yRight(6400.5, 6923.4, mainPriceTicks, 76, price5),
    yl: yLeft(6400.5, 6923.4, [], 55.6)
}, [watermark('AUDUSD, 4h', 'Australian Dollar / U.S. Dollar', 1042, 439, 85, 1042, 550, 48), overlay(mainLabels, [278, 6407])]);
makePane(10, 1012, 2107, 113, [
    lineSet([[MX0, 0], [278, 0]], '#555', 1.5, {order: 4}), oscSet(mainOsc, 3.5)
], {
    x: xScale(MX0, MX1, mainTicksX, mainTickLabels, false),
    y: yRight(-101.6, 75, [50, 0, -50], 76, osc5),
    yl: yLeft(-101.6, 75, [], 55.6)
});
makePane(10, 1125, 2107, 105, [
    lineSet([[MX0, 80], [ME, 80]], '#f44336', 1), lineSet([[MX0, 20], [ME, 20]], '#4caf50', 1),
    lineSet([[MX0, 50], [ME, 50]], '#b2b5be', 1, {borderDash: [5, 4]}),
    lineSet(mainStochK, '#4caf50', 1, {order: 2}), lineSet(mainStochD, '#f44336', 1, {order: 1})
], {
    x: xScale(MX0, MX1, mainTicksX, mainTickLabels, true),
    y: yRight(-11, 112.7, [], 76, v => ''),
    yl: yLeft(-11, 112.7, [100, 50, 0], 55.6)
});

// ---- weekly panel ----
const WX0 = -0.2, WX1 = 134.2;
const weekLevelStyle = [
    [68.6, 135, '#f44336', 2], [116.7, 135, GRAY_LVL, 1.5], [68.6, 135, '#2e7d32', 2], [68.6, 135, '#2e7d32', 2],
    [WX0, 124, 'rgba(244,67,54,.6)', 1, [1, 2]], [68.6, 135, GRAY_LVL, 2], [WX0, 135, '#f23645', 2, [2, 3]], [68.6, 135, GRAY_LVL, 2],
    [68.6, 135, GRAY_LVL, 2], [WX0, 135, '#f23645', 2], [WX0, 135, '#2e7d32', 1, [1, 2]], [WX0, 135, '#4caf50', 2, [2, 3]],
    [116.7, 135, PIVOT, 1], [68.6, 135, '#f23645', 2]
];
const weekLabels = [
    ['(0.78109)', 67.5, 7810, '#f44336', 'right'], ['R2 (0.763)', 114, 7626, PIVOT, 'right'], ['(0.75165)', 67.5, 7512, '#388e3c', 'right'],
    ['(0.72202)', 67.5, 7218, '#388e3c', 'right'], ['R1 (0.722)', 114, 7218, PIVOT, 'right'], ['(0.70456)', 67.5, 7014, GRAY_LVL, 'right'],
    ['(0.68510)', 67.5, 6854, GRAY_LVL, 'right'], ['(0.67422)', 67.5, 6740, GRAY_LVL, 'right'], ['P (0.675)', 114, 6745, PIVOT, 'right'],
    ['S1 (0.633)', 114, 6333, PIVOT, 'right'], ['(0.62643)', 67.5, 6260, '#f44336', 'right']
];
const weekSets = [
    graySet(weekGrayVol, 7841, 6035, 2),
    ...volumeSets(weekVolBuy, weekVolTotal, 7589, 6180, 3.8, 28, 59),
    lineSet(weekBandUp, 'rgba(244,67,54,.16)', 1), lineSet(weekBandLow, 'rgba(76,175,80,.16)', 1),
    ...segmentSets(weekTrendLines, 'rgba(120,123,134,.28)', 1.5),
    lineSet(weekRedStep, 'rgba(244,67,54,.75)', 1), lineSet(weekRedStepB, 'rgba(244,67,54,.75)', 1), lineSet(weekRedStepC, 'rgba(244,67,54,.75)', 1),
    lineSet(weekGreenStep, 'rgba(56,142,60,.85)', 1), lineSet(weekGreenStepB, 'rgba(56,142,60,.85)', 1), lineSet(weekGreenStepC, 'rgba(56,142,60,.85)', 1),
    ...weekLevelPrices.map((p, i) => levelSet(p, weekLevelStyle[i])),
    ...candleSets(weekClose, weekHigh, weekLow, weekRedRuns, 7255),
    dotSet(weekRedDots, 'rgba(244,67,54,.45)'), dotSet(weekGreenDots, 'rgba(76,175,80,.45)')
];
makePane(2123, 27, 941, 467, weekSets, {
    x: xScale(WX0, WX1, weekTicksX, weekTickLabels, false),
    vol: {axis: 'x', type: 'linear', min: 0, max: 1371, display: false, offset: false},
    gray: {axis: 'x', type: 'linear', reverse: true, min: -106, max: 1265, display: false, offset: false},
    y: yRight(6018, 7843, weekPriceTicks, 66, price5, '#50535e'),
    yl: yLeft(6018, 7843, [], 59)
}, [watermark('AUDUSD, 1W', 'Australian Dollar / U.S. Dollar', 2588 - 2123, 188, 85, 2590 - 2123, 290, 44), overlay(weekLabels, [124, 6067])]);
makePane(2123, 494, 941, 68, [
    lineSet([[WX0, 0], [124, 0]], '#8a8d96', 2.5, {order: 4}), oscSet(weekOsc, 3)
], {
    x: xScale(WX0, WX1, weekTicksX, weekTickLabels, false),
    y: yRight(-78, 90, [0], 66, osc5, '#50535e'),
    yl: yLeft(-78, 90, [], 59)
});
makePane(2123, 562, 941, 67, [
    lineSet([[WX0, 80], [WX1, 80]], '#f44336', 1.5), lineSet([[WX0, 58], [WX1, 58]], '#787b86', 1), lineSet([[WX0, 20], [WX1, 20]], '#4caf50', 1),
    lineSet([[WX0, 49], [WX1, 49]], '#b2b5be', 1, {borderDash: [5, 4]}),
    lineSet(weekStochFastK, '#4caf50', 1, {order: 2}), lineSet(weekStochFastD, '#f44336', 1, {order: 1}),
    lineSet(weekStochSlowK, '#4caf50', 1.2, {order: 2, tension: .3}), lineSet(weekStochSlowD, '#f44336', 1.2, {order: 1, tension: .3})
], {
    x: xScale(WX0, WX1, weekTicksX, weekTickLabels, true),
    y: yRight(-15, 117, [], 66, v => '', '#50535e'),
    yl: yLeft(-15, 117, [100, 0], 59)
});

// ---- daily panel ----
const DX0 = -1, DX1 = 135.7;
const dayLevelStyle = [
    [85.5, 131.3, GRAY_LVL, 2], [85.5, 131.3, GRAY_LVL, 2], [109.9, 131.3, PIVOT, 1], [109.9, 136, '#d05ce3', 2], [85.5, 131.3, GRAY_LVL, 2],
    [DX0, 125, 'rgba(244,67,54,.8)', 1, [1, 2]], [109.9, 131.3, PIVOT, 1], [122, 136, '#ffcc80', 2], [DX0, 136, '#2e7d32', 1, [1, 2]],
    [DX0, 136, '#f23645', 2, [2, 3]], [122, 136, '#ffcc80', 2], [109.9, 131.3, PIVOT, 1], [85.5, 131.3, '#f23645', 2], [DX0, 136, '#f00', 2],
    [109.9, 131.3, PIVOT, 1], [DX0, 125, '#4caf50', 1.5, [2, 3]], [109.9, 136, '#d05ce3', 2]
];
const dayLabels = [
    ['(0.', 133.3, 6909, GRAY_LVL], ['(0.', 133.3, 6808, GRAY_LVL], ['R1 (0.676)', 107.2, 6761, PIVOT, 'right'], ['(0.', 133.3, 6736, GRAY_LVL],
    ['P (0.664)', 107.2, 6643, PIVOT, 'right'], ['S1 (0.645)', 107.2, 6448, PIVOT, 'right'], ['(0.', 133.3, 6436, '#f23645'], ['S2 (0.633)', 107.2, 6329, PIVOT, 'right']
];
const daySets = [
    graySet(dayGrayVol, 6944, 6222, 2),
    ...volumeSets(dayVolBuy, dayVolTotal, 6868, 6274, 2.8, 48, 93),
    lineSet(dayBandUp, 'rgba(244,67,54,.16)', 1), lineSet(dayBandLow, 'rgba(76,175,80,.16)', 1), lineSet(dayBandMid, 'rgba(76,175,80,.16)', 1),
    ...segmentSets(dayTrendLines, 'rgba(120,123,134,.25)', 1.5),
    lineSet(dayRedStep, 'rgba(244,67,54,.75)', 1), lineSet(dayRedStepB, 'rgba(244,67,54,.75)', 1), lineSet(dayGreenStep, 'rgba(56,142,60,.85)', 1),
    ...dayLevelPrices.map((p, i) => levelSet(p, dayLevelStyle[i])),
    ...candleSets(dayClose, dayHigh, dayLow, dayRedRuns, 6473),
    dotSet(dayRedDots, 'rgba(244,67,54,.45)'), dotSet(dayGreenDots, 'rgba(76,175,80,.45)')
];
makePane(2123, 634, 941, 465, daySets, {
    x: xScale(DX0, DX1, dayTicksX, dayTickLabels, false),
    vol: {axis: 'x', type: 'linear', min: 0, max: 1364, display: false, offset: false},
    gray: {axis: 'x', type: 'linear', reverse: true, min: -106, max: 1258, display: false, offset: false},
    y: yRight(6209, 6944, dayPriceTicks, 70, price5, '#50535e'),
    yl: yLeft(6209, 6944, [], 59)
}, [watermark('AUDUSD, 1D', 'Australian Dollar / U.S. Dollar', 2588 - 2123, 188, 85, 2575 - 2123, 294, 44), overlay(dayLabels, [125, 6229])]);
makePane(2123, 1099, 941, 68, [
    lineSet([[DX0, 0], [125, 0]], '#222', 2, {order: 4}), oscSet(dayOsc, 3)
], {
    x: xScale(DX0, DX1, dayTicksX, dayTickLabels, false),
    y: yRight(-88, 78, [0], 70, osc5, '#50535e'),
    yl: yLeft(-88, 78, [], 59)
});
makePane(2123, 1167, 941, 66, [
    lineSet([[DX0, 79], [DX1, 79]], '#f44336', 1), lineSet([[DX0, 41], [DX1, 41]], '#787b86', 1), lineSet([[DX0, 18], [DX1, 18]], '#4caf50', 1),
    lineSet([[DX0, 51], [DX1, 51]], '#9598a1', 1, {borderDash: [5, 4]}),
    lineSet(dayStochFastK, '#4caf50', 1, {order: 2}), lineSet(dayStochFastD, '#f44336', 1, {order: 1}),
    lineSet(dayStochSlowK, '#4caf50', 1.2, {order: 2, tension: .3}), lineSet(dayStochSlowD, '#f44336', 1.2, {order: 1, tension: .3})
], {
    x: xScale(DX0, DX1, dayTicksX, dayTickLabels, true),
    y: yRight(-14, 116, [100, 0], 70, v => v.toFixed(2), '#50535e'),
    yl: yLeft(-14, 116, [100, 0], 59)
});

// pane separators, buttons, price tags
[[10, 1012, 2107, 1.5, '#e0e3eb'], [10, 1125, 2107, 1.5, '#e0e3eb'],
 [2123, 494, 941, 1.5, '#50535e'], [2123, 562, 941, 1.5, '#50535e'], [2123, 1099, 941, 1.5, '#50535e'], [2123, 1167, 941, 1.5, '#50535e']
].forEach(s => addDiv('sep', `left:${s[0]}px;top:${s[1]}px;width:${s[2]}px;height:${s[3]}px;background:${s[4]}`));
addDiv('usd', 'left:2045px;top:31px;width:68px;height:26px', 'USD');
addDiv('usd', 'left:3002px;top:31px;width:57px;height:26px', 'USD');
addDiv('usd', 'left:2998px;top:638px;width:61px;height:26px', 'USD');
addDiv('tag', 'left:2042px;top:646px', '0.65902<br>01:24:17');
addDiv('tag', 'left:2998px;top:340px', '0.65902<br>1d 14h');
addDiv('tag', 'left:2994px;top:850px;width:65px', '0.65902<br>13:24:17');
addDiv('btn', 'left:28px;top:1205px', 'Z');
addDiv('btn', 'left:2069px;top:1205px', 'A');
addDiv('btn', 'left:2141px;top:603px', 'Z');
addDiv('btn', 'left:3021px;top:603px', 'A');
addDiv('btn', 'left:2141px;top:1208px', 'Z');
addDiv('btn', 'left:3019px;top:1208px', 'A');
</script>
</body>
</html>
